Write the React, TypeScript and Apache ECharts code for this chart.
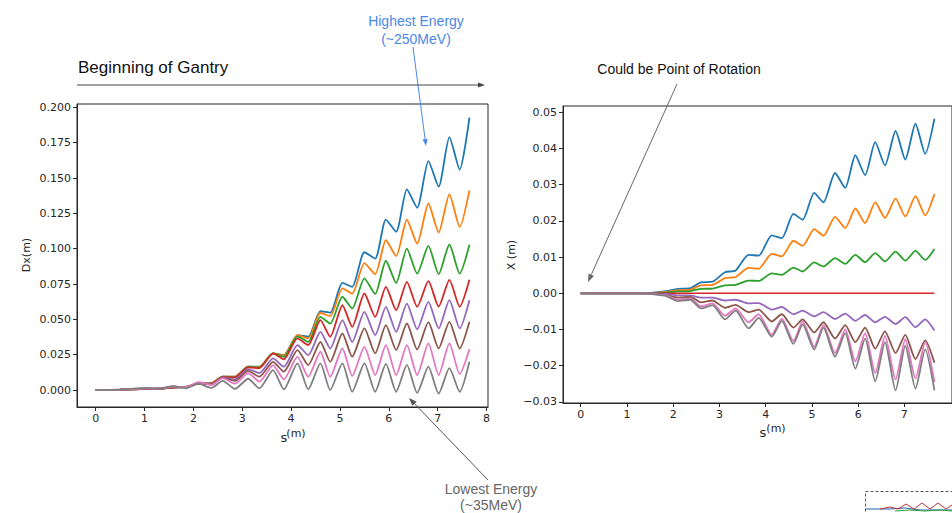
import React, { useEffect, useRef } from "react";
import * as echarts from "echarts";

// s positions (m), shared by all series
const S = [0, 0.5, 1.05, 1.3, 1.58, 1.85, 2.1, 2.37, 2.6, 2.85, 3.12, 3.35, 3.63, 3.85, 4.13, 4.35, 4.6, 4.8, 5.05, 5.25, 5.5, 5.72, 5.94, 6.15, 6.37, 6.58, 6.81, 7.02, 7.24, 7.45, 7.65];

// Left panel: Dx (m)
const dxBlue = [0, 0.0003, 0.0008, 0.001, 0.0018, 0.0022, 0.0045, 0.0048, 0.0095, 0.0095, 0.0165, 0.0165, 0.026, 0.0247, 0.0389, 0.0377, 0.0558, 0.0547, 0.0758, 0.073, 0.0975, 0.093, 0.1206, 0.112, 0.142, 0.129, 0.162, 0.144, 0.179, 0.156, 0.1927];
const dxOrange = [0, 0.0003, 0.0008, 0.001, 0.0018, 0.0022, 0.0045, 0.0048, 0.0095, 0.0094, 0.0165, 0.0163, 0.026, 0.0245, 0.0389, 0.0365, 0.0547, 0.0523, 0.0719, 0.0683, 0.0898, 0.082, 0.106, 0.0948, 0.1205, 0.1036, 0.132, 0.1115, 0.1385, 0.1154, 0.1413];
const dxGreen = [0, 0.0003, 0.0008, 0.001, 0.0018, 0.0022, 0.0045, 0.0047, 0.0094, 0.0092, 0.0163, 0.016, 0.026, 0.0235, 0.038, 0.034, 0.0518, 0.047, 0.066, 0.0577, 0.079, 0.068, 0.0915, 0.0758, 0.1, 0.0824, 0.102, 0.082, 0.103, 0.0824, 0.1028];
const dxRed = [0, 0.0003, 0.0008, 0.001, 0.0018, 0.0022, 0.0045, 0.0046, 0.0093, 0.009, 0.016, 0.0155, 0.026, 0.0217, 0.0365, 0.0318, 0.0495, 0.0377, 0.06, 0.0448, 0.0683, 0.0518, 0.073, 0.0565, 0.0766, 0.0589, 0.077, 0.059, 0.078, 0.0589, 0.078];
const dxPurple = [0, 0.0003, 0.001, 0.001, 0.002, 0.002, 0.0048, 0.0042, 0.009, 0.0075, 0.0148, 0.012, 0.0224, 0.0165, 0.0318, 0.0247, 0.0412, 0.0294, 0.0495, 0.034, 0.0553, 0.0389, 0.0589, 0.0412, 0.0612, 0.043, 0.0624, 0.0436, 0.0636, 0.0436, 0.0636];
const dxBrown = [0, 0.0003, 0.001, 0.001, 0.002, 0.002, 0.0048, 0.004, 0.0088, 0.0065, 0.0135, 0.0095, 0.02, 0.013, 0.0283, 0.0177, 0.034, 0.02, 0.04, 0.0236, 0.0436, 0.026, 0.0459, 0.0283, 0.0471, 0.0287, 0.048, 0.0294, 0.0483, 0.0294, 0.0483];
const dxPink = [0, 0.0003, 0.0012, 0.001, 0.0025, 0.002, 0.0055, 0.0035, 0.0085, 0.0045, 0.012, 0.006, 0.0177, 0.0075, 0.0236, 0.0094, 0.0271, 0.0094, 0.0294, 0.0099, 0.0306, 0.0106, 0.0318, 0.0106, 0.0318, 0.0106, 0.033, 0.0106, 0.033, 0.0113, 0.0288];
const dxGray = [0, 0.0003, 0.0015, 0.0008, 0.0028, 0.0012, 0.0045, 0.0015, 0.0065, 0.0008, 0.008, 0.0012, 0.0141, 0.0005, 0.0189, 0.0005, 0.0189, 0, 0.0189, -0.0012, 0.0189, -0.0012, 0.0185, -0.0012, 0.0178, -0.002, 0.0165, -0.0025, 0.0155, -0.0012, 0.02];

// Right panel: X (m)
const xBlue = [0, 0, 0, 0, 0.0002, 0.0006, 0.0012, 0.0014, 0.003, 0.0032, 0.0058, 0.0063, 0.0106, 0.0104, 0.016, 0.0152, 0.0219, 0.0203, 0.0277, 0.0251, 0.0332, 0.0291, 0.0381, 0.0326, 0.0417, 0.0353, 0.0448, 0.0369, 0.0468, 0.0385, 0.0482];
const xOrange = [0, 0, 0, 0, 0.0001, 0.0004, 0.0008, 0.001, 0.0022, 0.0023, 0.0042, 0.0045, 0.007, 0.0068, 0.0109, 0.0102, 0.0145, 0.0131, 0.0177, 0.0159, 0.0211, 0.018, 0.0234, 0.0194, 0.0251, 0.0208, 0.0261, 0.0212, 0.0268, 0.0215, 0.0274];
const xGreen = [0, 0, 0, 0, 0.0001, 0.0002, 0.0005, 0.0006, 0.0012, 0.0013, 0.0022, 0.0023, 0.0035, 0.0034, 0.0055, 0.0051, 0.0071, 0.006, 0.0085, 0.0074, 0.0097, 0.0081, 0.0106, 0.0086, 0.0111, 0.0088, 0.0115, 0.009, 0.0117, 0.0092, 0.0122];
const xRed = [0, 0, 0, 0, 0, 0, 0, 0, 0, 0, 0, 0, 0, 0, 0, 0, 0, 0, 0, 0, 0, 0, 0, 0, 0, 0, 0, 0, 0, 0, 0];
const xPurple = [0, 0, 0, 0, -0.0001, -0.0002, -0.0006, -0.0006, -0.0012, -0.0012, -0.002, -0.0018, -0.0028, -0.0027, -0.0045, -0.0038, -0.0058, -0.0048, -0.0064, -0.0052, -0.0071, -0.0056, -0.0076, -0.006, -0.008, -0.0065, -0.0085, -0.0066, -0.0094, -0.0072, -0.0103];
const xBrown = [0, 0, 0, 0, -0.0002, -0.0005, -0.0012, -0.001, -0.0025, -0.002, -0.004, -0.0032, -0.0052, -0.0045, -0.0078, -0.0058, -0.0095, -0.0072, -0.0108, -0.008, -0.0125, -0.0088, -0.0135, -0.0095, -0.0153, -0.0105, -0.0165, -0.0115, -0.0182, -0.013, -0.0192];
const xPink = [0, 0, 0, 0, -0.0002, -0.0006, -0.0018, -0.0015, -0.0036, -0.0028, -0.0062, -0.0042, -0.008, -0.0058, -0.0115, -0.007, -0.0132, -0.0078, -0.0148, -0.0088, -0.0165, -0.01, -0.0188, -0.011, -0.022, -0.0118, -0.0238, -0.0127, -0.0235, -0.0135, -0.0245];
const xGray = [0, 0, 0, 0, -0.0003, -0.0008, -0.0022, -0.0018, -0.0042, -0.0033, -0.0072, -0.0048, -0.0097, -0.0068, -0.012, -0.0076, -0.014, -0.0086, -0.0155, -0.0095, -0.0175, -0.011, -0.0208, -0.0125, -0.0243, -0.0135, -0.0268, -0.0145, -0.0263, -0.0155, -0.0268];

// Tick labels
const leftXTicks = [0, 1, 2, 3, 4, 5, 6, 7, 8];
const rightXTicks = [0, 1, 2, 3, 4, 5, 6, 7];
const leftYTicks = [0, 0.025, 0.05, 0.075, 0.1, 0.125, 0.15, 0.175, 0.2];
const rightYTicks = [-0.03, -0.02, -0.01, 0, 0.01, 0.02, 0.03, 0.04, 0.05];

const COLORS = ["#1f77b4", "#ff7f0e", "#2ca02c", "#d62728", "#9467bd", "#8c564b", "#e377c2", "#7f7f7f"];
const leftSeries = [dxBlue, dxOrange, dxGreen, dxRed, dxPurple, dxBrown, dxPink, dxGray];
const rightSeries = [xBlue, xOrange, xGreen, xRed, xPurple, xBrown, xPink, xGray];

const TICK_FONT = "DejaVu Sans";
const NOTE_FONT = "Liberation Sans";
const AX = "#262626";

function arrow(x1: number, y1: number, x2: number, y2: number, color: string, len = 8, w = 3) {
  const a = Math.atan2(y2 - y1, x2 - x1);
  const bx = x2 - len * Math.cos(a);
  const by = y2 - len * Math.sin(a);
  const px = -Math.sin(a) * w;
  const py = Math.cos(a) * w;
  return [
    { type: "line", z: 100, shape: { x1, y1, x2: bx, y2: by }, style: { stroke: color, lineWidth: 1 } },
    { type: "polygon", z: 100, shape: { points: [[x2, y2], [bx + px, by + py], [bx - px, by - py]] }, style: { fill: color } },
  ];
}

function txt(text: string, x: number, y: number, size: number, color: string, family: string, rotation = 0) {
  return {
    type: "text",
    z: 100,
    x,
    y,
    rotation,
    style: {
      text,
      x: 0,
      y: 0,
      fill: color,
      fontSize: size,
      fontFamily: family,
      align: "center",
      verticalAlign: "middle",
      textAlign: "center",
      textVerticalAlign: "middle",
    },
  };
}

const fmtMinus = (s: string) => s.replace("-", "\u2212");

export default function App() {
  const ref = useRef<HTMLDivElement>(null);
  useEffect(() => {
    if (!ref.current) return;
    const chart = echarts.init(ref.current, undefined, { renderer: "svg" });
    const axisCommon = {
      type: "value",
      axisLine: { show: true, onZero: false, lineStyle: { color: AX, width: 1 } },
      axisTick: { show: true, inside: false, length: 4, lineStyle: { color: AX } },
      splitLine: { show: false },
      axisLabel: { color: AX, fontFamily: TICK_FONT, fontSize: 11, margin: 6 },
    };
    const series: any[] = [];
    leftSeries.forEach((arr, k) => {
      series.push({
        type: "line",
        xAxisIndex: 0,
        yAxisIndex: 0,
        data: S.map((s, i) => [s, arr[i]]),
        showSymbol: false,
        smooth: 0.22,
        lineStyle: { color: COLORS[k], width: 1.8 },
        itemStyle: { color: COLORS[k] },
      });
    });
    rightSeries.forEach((arr, k) => {
      series.push({
        type: "line",
        xAxisIndex: 1,
        yAxisIndex: 1,
        data: S.map((s, i) => [s, arr[i]]),
        showSymbol: false,
        smooth: 0.22,
        lineStyle: { color: COLORS[k], width: k === 3 ? 1.5 : 1.8 },
        itemStyle: { color: COLORS[k] },
      });
    });

    const graphic: any[] = [
      txt("Highest Energy", 416, 21, 14, "#4a86e8", NOTE_FONT),
      txt("(~250MeV)", 416, 39, 14, "#4a86e8", NOTE_FONT),
      ...arrow(413, 47, 426, 146, "#4a86e8", 7, 2.5),
      { type: "text", z: 100, x: 78, y: 67, style: { text: "Beginning of Gantry", x: 0, y: 0, fill: "#111", fontSize: 17, fontFamily: NOTE_FONT, align: "left", verticalAlign: "middle", textAlign: "left", textVerticalAlign: "middle" } },
      ...arrow(77, 85, 485, 85, "#444", 7, 2.5),
      txt("Could be Point of Rotation", 679, 69, 14, "#111", NOTE_FONT),
      ...arrow(677, 84, 588, 282, "#666", 8, 3),
      txt("Lowest Energy", 491, 489, 14, "#666", NOTE_FONT),
      txt("(~35MeV)", 491, 505, 14, "#666", NOTE_FONT),
      ...arrow(488, 480, 409, 398, "#555", 8, 3),
      txt("Dx(m)", 26, 255, 11, AX, TICK_FONT, Math.PI / 2),
      txt("X (m)", 511, 255, 11, AX, TICK_FONT, Math.PI / 2),
      txt("s", 284, 437, 13, AX, TICK_FONT),
      txt("(m)", 296, 433, 11, AX, TICK_FONT),
      txt("s", 763, 432, 13, AX, TICK_FONT),
      txt("(m)", 776, 428, 11, AX, TICK_FONT),
      { type: "rect", z: 100, shape: { x: 865.5, y: 491.5, width: 100, height: 30 }, style: { fill: "none", stroke: "#555", lineWidth: 1, lineDash: [3, 2] } },
      { type: "polyline", z: 100, shape: { points: [[866, 509], [890, 509], [905, 508], [920, 510], [952, 510]] }, style: { stroke: "#1f5fb4", lineWidth: 1, fill: "none" } },
      { type: "polyline", z: 100, shape: { points: [[880, 509], [890, 507], [898, 509], [906, 504], [914, 509], [922, 503], [930, 509], [938, 503], [946, 509], [952, 505]] }, style: { stroke: "#c03030", lineWidth: 1, fill: "none" } },
      { type: "polyline", z: 100, shape: { points: [[895, 511], [910, 510], [925, 511], [940, 510], [952, 511]] }, style: { stroke: "#2ca02c", lineWidth: 1, fill: "none" } },
    ];

    chart.setOption({
      animation: false,
      backgroundColor: "#ffffff",
      grid: [
        { left: 77, top: 104, width: 411, height: 303, show: true, borderColor: AX, borderWidth: 1, backgroundColor: "transparent" },
        { left: 563, top: 106, width: 399, height: 297, show: true, borderColor: AX, borderWidth: 1, backgroundColor: "transparent" },
      ],
      xAxis: [
        {
          ...axisCommon,
          gridIndex: 0,
          min: -0.383,
          max: 8.03,
          axisTick: { ...axisCommon.axisTick, customValues: leftXTicks },
          axisLabel: { ...axisCommon.axisLabel, customValues: leftXTicks, formatter: (v: number) => String(v) },
        },
        {
          ...axisCommon,
          gridIndex: 1,
          min: -0.383,
          max: 8.03,
          axisTick: { ...axisCommon.axisTick, customValues: rightXTicks },
          axisLabel: { ...axisCommon.axisLabel, customValues: rightXTicks, formatter: (v: number) => String(v) },
        },
      ],
      yAxis: [
        {
          ...axisCommon,
          gridIndex: 0,
          min: -0.012,
          max: 0.2024,
          axisTick: { ...axisCommon.axisTick, customValues: leftYTicks },
          axisLabel: { ...axisCommon.axisLabel, customValues: leftYTicks, formatter: (v: number) => v.toFixed(3) },
        },
        {
          ...axisCommon,
          gridIndex: 1,
          min: -0.0303,
          max: 0.0517,
          axisTick: { ...axisCommon.axisTick, customValues: rightYTicks },
          axisLabel: { ...axisCommon.axisLabel, customValues: rightYTicks, formatter: (v: number) => fmtMinus(v.toFixed(2)) },
        },
      ],
      series,
      graphic,
    });
    return () => chart.dispose();
  }, []);
  return <div ref={ref} style={{ position: "fixed", left: 0, top: 0, width: 952, height: 513 }} />;
}
